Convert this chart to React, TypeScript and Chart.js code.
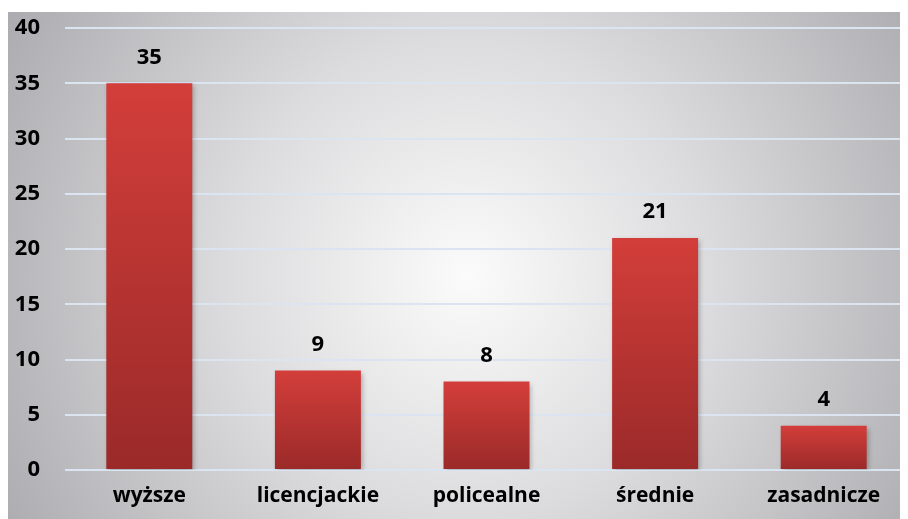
import React, { useEffect, useRef } from "react";
import { Chart, registerables } from "chart.js";

Chart.register(...registerables);

const categories = ["wyższe", "licencjackie", "policealne", "średnie", "zasadnicze"];
const values = [35, 9, 8, 21, 4];
const yTicks = [0, 5, 10, 15, 20, 25, 30, 35, 40];

const FONT = "'Open Sans', 'Noto Sans', sans-serif";

const bgPlugin = {
  id: "bgGrad",
  beforeDraw(chart: any) {
    const { ctx, width, height } = chart;
    const cx = width * 0.51;
    const cy = height * 0.52;
    const r = Math.sqrt(cx * cx + cy * cy);
    const g = ctx.createRadialGradient(cx, cy, 0, cx, cy, r);
    g.addColorStop(0, "#fbfbfb");
    g.addColorStop(0.45, "#dcdcde");
    g.addColorStop(1, "#acacb0");
    ctx.save();
    ctx.fillStyle = g;
    ctx.fillRect(0, 0, width, height);
    ctx.restore();
  },
  beforeDatasetsDraw(chart: any) {
    const ctx = chart.ctx;
    ctx.save();
    ctx.shadowColor = "rgba(0,0,0,0.28)";
    ctx.shadowBlur = 5;
    ctx.shadowOffsetX = 2;
    ctx.shadowOffsetY = 2;
  },
  afterDatasetsDraw(chart: any) {
    const ctx = chart.ctx;
    ctx.restore();
    const meta = chart.getDatasetMeta(0);
    ctx.save();
    ctx.fillStyle = "#000";
    ctx.font = `700 22px ${FONT}`;
    ctx.textAlign = "center";
    ctx.textBaseline = "middle";
    meta.data.forEach((bar: any, i: number) => {
      ctx.fillText(String(values[i]), bar.x, bar.y - 26);
    });
    ctx.restore();
  },
};

export default function App() {
  const ref = useRef<HTMLCanvasElement>(null);
  useEffect(() => {
    const chart = new Chart(ref.current!, {
      type: "bar",
      data: {
        labels: categories,
        datasets: [
          {
            data: values,
            backgroundColor: (c: any) => {
              const chart = c.chart;
              const ys = chart.scales?.y;
              if (!ys || c.dataIndex === undefined) return "#c23634";
              const v = values[c.dataIndex];
              const top = ys.getPixelForValue(v);
              const base = ys.getPixelForValue(0);
              if (!isFinite(top) || !isFinite(base) || top === base) return "#c23634";
              const g = chart.ctx.createLinearGradient(0, top, 0, base);
              g.addColorStop(0, "#d33e3a");
              g.addColorStop(1, "#9a2a29");
              return g;
            },
            borderWidth: 0,
            barPercentage: 0.51,
            categoryPercentage: 1,
          },
        ],
      },
      options: {
        animation: false,
        responsive: false,
        maintainAspectRatio: false,
        layout: { padding: { top: 16, right: 0, left: 0, bottom: 0 } },
        plugins: { legend: { display: false }, tooltip: { enabled: false }, title: { display: false } },
        scales: {
          x: {
            grid: { display: false, drawTicks: false },
            border: { display: false },
            ticks: { color: "#000", font: { family: FONT, size: 21, weight: 700 }, padding: 13, maxRotation: 0 },
            afterFit: (s: any) => { s.height = 49; s.paddingLeft = 0; s.paddingRight = 0; },
          },
          y: {
            min: 0,
            max: 40,
            afterBuildTicks: (s: any) => { s.ticks = yTicks.map((v) => ({ value: v })); },
            grid: { color: "#dbe5f1", lineWidth: 2, drawTicks: false },
            border: { display: false },
            ticks: { color: "#000", font: { family: FONT, size: 22, weight: 700 }, padding: 25 },
            afterFit: (s: any) => { s.width = 57; s.paddingTop = 0; s.paddingBottom = 0; },
          },
        },
      },
      plugins: [bgPlugin],
    });
    return () => chart.destroy();
  }, []);
  return (
    <div style={{ paddingTop: 4 }}>
      <canvas ref={ref} width={900} height={507} style={{ display: "block" }} />
    </div>
  );
}
